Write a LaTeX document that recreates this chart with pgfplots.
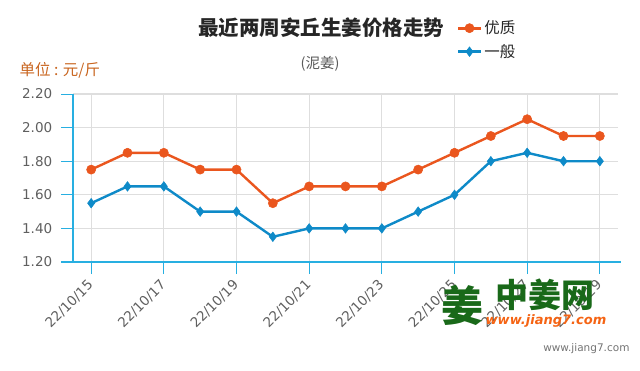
\documentclass[border=0pt]{standalone}
\usepackage{pgfplots}
\pgfplotsset{compat=1.18}
\usepackage{fontspec}
\setmainfont{DejaVu Sans}
\newfontfamily\cjk{Noto Sans CJK SC}
\definecolor{cOrange}{RGB}{234,86,30}
\definecolor{cBlue}{RGB}{14,138,200}
\definecolor{cAxis}{RGB}{40,175,225}
\definecolor{cGrid}{RGB}{222,222,222}
\definecolor{cTick}{RGB}{95,95,95}
\definecolor{cUnit}{RGB}{200,100,30}
\definecolor{cLogo}{RGB}{25,105,25}
\definecolor{cLogoO}{RGB}{245,100,20}
\begin{document}
\begin{tikzpicture}[x=1pt,y=1pt]
\path[use as bounding box] (0,0) rectangle (640,370);
\begin{axis}[
  scale only axis,
  width=545pt, height=168pt,
  at={(73pt,108pt)}, anchor=south west,
  xmin=-0.5, xmax=14.5, ymin=1.2, ymax=2.2,
  axis x line=bottom, axis y line=left,
  axis line style={draw=cAxis, line width=1.2pt, -},
  x axis line style={shorten <=-12pt, shorten >=-3pt},
  xtick={0,2,4,6,8,10,12,14},
  xticklabels={22/10/15,22/10/17,22/10/19,22/10/21,22/10/23,22/10/25,22/10/27,22/10/29},
  ytick={1.2,1.4,1.6,1.8,2.0,2.2},
  yticklabel style={xshift=-13pt, /pgf/number format/.cd,fixed,fixed zerofill,precision=2},
  tick align=outside,
  xtick style={draw=cAxis, line width=1pt, /pgfplots/major tick length=12pt},
  ytick style={draw=cAxis, line width=1pt, /pgfplots/major tick length=12pt},
  grid=major,
  major grid style={draw=cGrid, line width=1.2pt},
  /pgf/number format/assume math mode=true,
  ticklabel style={font=\fontsize{13.5}{15}\selectfont, text=cTick},
  x tick label style={xshift=2pt, yshift=-14pt, rotate=45, anchor=east},
  legend style={at={(0.698,1.46)}, anchor=north west, draw=none, fill=none,
     font=\cjk\fontsize{15.5}{18}\selectfont, row sep=5pt, text=black!85},
  legend cell align=left,
  legend image code/.code={
     \draw[#1, line width=2.8pt] (0pt,0pt) -- (23pt,0pt);
     \draw[#1, only marks] plot coordinates {(11.5pt,0pt)};
  },
  clip=false,
]
\addplot[color=cOrange, line width=2.4pt, mark=*, mark size=4.6pt, mark options={fill=cOrange, draw=cOrange, line width=0.5pt}]
coordinates {(0,1.75)(1,1.85)(2,1.85)(3,1.75)(4,1.75)(5,1.55)(6,1.65)(7,1.65)(8,1.65)(9,1.75)(10,1.85)(11,1.95)(12,2.05)(13,1.95)(14,1.95)};
\addlegendentry{优质}
\addplot[color=cBlue, line width=2.4pt, mark=diamond*, mark size=4.8pt, mark options={fill=cBlue, draw=cBlue, line width=0.5pt}]
coordinates {(0,1.55)(1,1.65)(2,1.65)(3,1.50)(4,1.50)(5,1.35)(6,1.40)(7,1.40)(8,1.40)(9,1.50)(10,1.60)(11,1.80)(12,1.85)(13,1.80)(14,1.80)};
\addlegendentry{一般}
\end{axis}
\node[font=\cjk\bfseries\fontsize{20.5}{24}\selectfont, text=black!85] at (321,342) {最近两周安丘生姜价格走势};
\node[font=\cjk\fontsize{14.5}{17}\selectfont, text=black!65] at (320,306) {(泥姜)};
\node[font=\cjk\fontsize{15.5}{18}\selectfont, text=cUnit, anchor=west] at (16,300) {单位 : 元/斤};
\node[font=\fontsize{10.5}{13}\selectfont, text=black!55, anchor=east] at (633,21) {www.jiang7.com};
\node[font=\cjk\bfseries\fontsize{42}{46}\selectfont, text=cLogo] at (462,65) {姜};
\node[font=\cjk\bfseries\fontsize{33}{36}\selectfont, text=cLogo] at (545,75) {中姜网};
\node[font=\bfseries\itshape\fontsize{13}{16}\selectfont, text=cLogoO] at (546,49) {www.jiang7.com};
\end{tikzpicture}
\end{document}
